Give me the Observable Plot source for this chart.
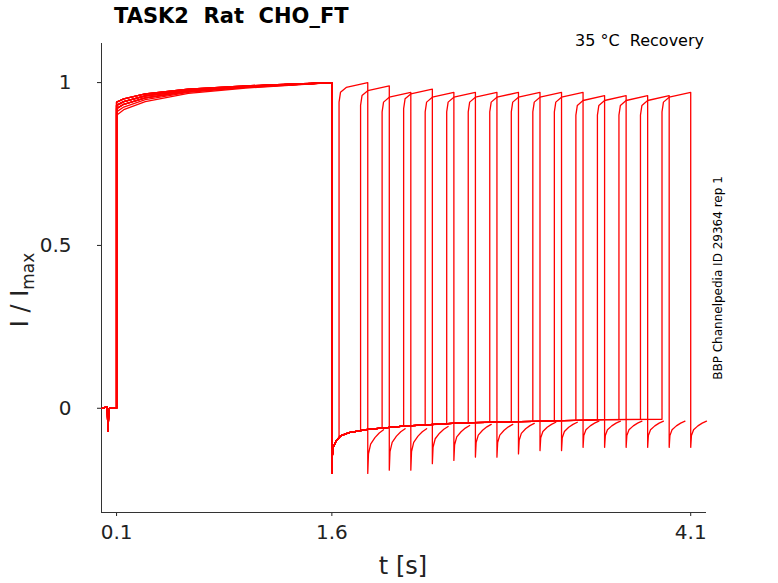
<!DOCTYPE html>
<html><head><meta charset="utf-8">
<script src="https://cdn.jsdelivr.net/npm/d3@7"></script>
<script src="https://cdn.jsdelivr.net/npm/@observablehq/plot@0.6"></script>
<style>
body{margin:0;background:#fff;font-family:"DejaVu Sans",sans-serif;}
#wrap{position:relative;width:778px;height:583px;}
.t{position:absolute;white-space:nowrap;}
</style></head><body>
<div id="wrap">
<div class="t" style="left:114px;top:4px;font-size:21px;font-weight:bold;">TASK2&nbsp; Rat&nbsp; CHO_FT</div>
<div class="t" style="right:74px;top:31px;font-size:16px;">35 °C&nbsp; Recovery</div>
<div class="t" style="left:718px;top:278px;font-size:12px;transform:translate(-50%,-50%) rotate(-90deg);">BBP Channelpedia ID 29364 rep 1</div>
<div class="t" style="left:22px;top:290px;font-size:24px;color:#222;transform:translate(-50%,-50%) rotate(-90deg);">I / I<sub style="font-size:17px">max</sub></div>
<div class="t" style="left:403px;top:566px;font-size:24px;color:#222;transform:translate(-50%,-50%);">t [s]</div>
</div>
<script>
// rise times of the second (test) pulse for each sweep, s
const riseTimes = [1.65,1.80,1.95,2.10,2.25,2.40,2.55,2.70,2.85,3.00,3.15,3.30,3.45,3.60,3.75,3.90];
// initial step level of conditioning pulse for each sweep
const startLevels = [0.94,0.93,0.92,0.93,0.90,0.94,0.92,0.93,0.91,0.94,0.93,0.92,0.94,0.93,0.92,0.93];
// peak level of test pulse
const peakLevels = [1.00,0.99,0.97,0.98,0.97,0.97,0.97,0.97,0.97,0.97,0.97,0.96,0.96,0.96,0.96,0.97];
// depth of tail after test pulse
const tailDepth = [-0.20,-0.19,-0.19,-0.17,-0.16,-0.15,-0.15,-0.14,-0.13,-0.13,-0.12,-0.12,-0.12,-0.12,-0.12,-0.12];
const pulseWidth = 0.2;
// recovery baseline after conditioning pulse (t, I)
const baseT = [1.6,1.602,1.61,1.63,1.66,1.72,1.85,2.1,2.5,3.0,3.5,4.1];
const baseI = [-0.20,-0.15,-0.12,-0.10,-0.085,-0.075,-0.065,-0.055,-0.045,-0.04,-0.035,-0.033];
// tail shape after test pulse (dt, fraction of depth)
const tailDt = [0,0.005,0.02,0.05,0.08,0.11];
const tailFr = [1,0.7,0.55,0.45,0.38,0.33];
// conditioning pulse rising shape (t, increment over start)
const condT = [0.1,0.15,0.3,0.6,1.0,1.3,1.6];
const condInc = [0,0.01,0.025,0.04,0.05,0.055,0.06];

const baseAt = d3.scaleLinear().domain(baseT).range(baseI).clamp(true);
const data = [];
riseTimes.forEach((r,i)=>{
  const s = startLevels[i], p = peakLevels[i], id=i;
  const pts = [[0,0],[0.035,0.005],[0.04,-0.07],[0.045,-0.02],[0.05,0],[0.1,0]];
  condT.forEach((t,k)=>pts.push([t, Math.min(1, s+condInc[k]*(1-s)/0.06)]));
  baseT.filter(t=>t<r).forEach(t=>pts.push([t, baseAt(t)]));
  pts.push([r, baseAt(r)]);
  pts.push([r, p-0.06],[r+0.01,p-0.03],[r+0.05,p-0.015],[r+pulseWidth,p]);
  const e = r+pulseWidth;
  tailDt.forEach((dt,k)=>pts.push([e+dt, tailDepth[i]*tailFr[k]]));
  pts.forEach(([t,v])=>data.push({t,v,id}));
});

const plot = Plot.plot({
  width:778, height:583,
  marginLeft:101, marginRight:72, marginTop:43, marginBottom:71,
  style:{fontSize:"20px",fontFamily:"DejaVu Sans",color:"#222",overflow:"visible"},
  x:{domain:[-0.005,4.21], ticks:[0.1,1.6,4.1], tickFormat:d=>d.toFixed(1), label:null, tickSize:4, tickPadding:8},
  y:{domain:[-0.32,1.12], ticks:[0,0.5,1], tickFormat:d=>d===0?"0":d===1?"1":"0.5", label:null, tickSize:4, tickPadding:26},
  marks:[
    Plot.ruleX([-0.005],{stroke:"#333"}),
    Plot.ruleY([-0.32],{stroke:"#333"}),
    Plot.line(data,{x:"t",y:"v",z:"id",stroke:"red",strokeWidth:1.3,curve:"linear"})
  ]
});
plot.style.position="absolute";plot.style.left="0";plot.style.top="0";
document.getElementById("wrap").prepend(plot);
</script>
</body></html>
